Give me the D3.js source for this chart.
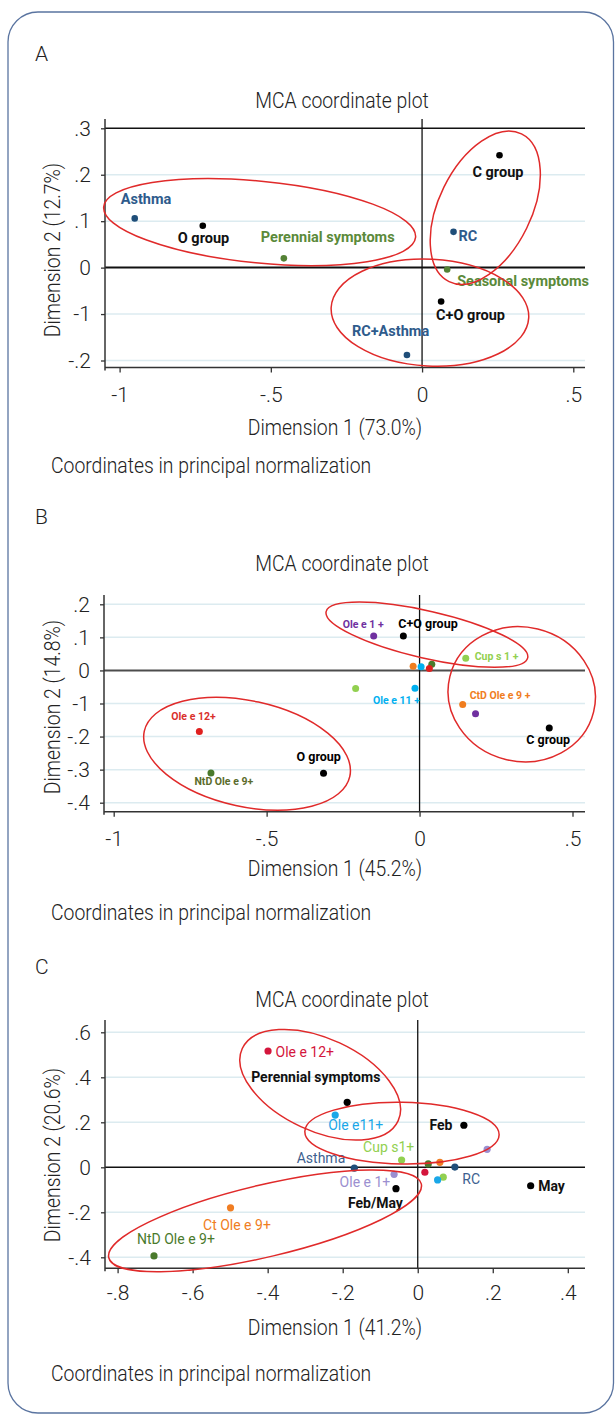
<!DOCTYPE html>
<html>
<head>
<meta charset="utf-8">
<script src="https://cdn.jsdelivr.net/npm/d3@7"></script>
<style>
  body { margin: 0; background: #fff; }
  svg { display: block; }
  text { font-family: Roboto, "Open Sans", sans-serif; }
</style>
</head>
<body>
<svg id="chart" width="615" height="1414"></svg>
<script>
// ---------- panel A : symptoms / groups
const aLabels = ["Asthma", "O group", "Perennial symptoms", "C group", "RC", "Seasonal symptoms", "C+O group", "RC+Asthma"];
const aKind = ["condition", "group", "symptom", "group", "condition", "symptom", "group", "condition"];
const aDim1 = [-0.950, -0.725, -0.457, 0.256, 0.104, 0.083, 0.063, -0.050];
const aDim2 = [0.106, 0.090, 0.020, 0.242, 0.077, -0.004, -0.073, -0.188];
const aXTicks = [-1, -0.5, 0, 0.5];
const aXTickText = ["-1", "-.5", "0", ".5"];
const aYTicks = [0.3, 0.2, 0.1, 0, -0.1, -0.2];
const aYTickText = [".3", ".2", ".1", "0", "-1", "-.2"];
// groups circled in red: centre (dim1, dim2), half axes (dim1 units, dim2 units), tilt
const aRings = [
    [-0.537, 0.098, 0.518, 0.088, 5.6],
    [0.209, 0.129, 0.272, 0.0995, -63.9],
    [0.026, -0.097, 0.327, 0.115, 3]
];

// ---------- panel B : allergen components
const bLabels = ["Ole e 1 +", "C+O group", "Cup s 1 +", "", "", "", "", "", "Ole e 11 +", "CtD Ole e 9 +", "", "C group", "Ole e 12+", "NtD Ole e 9+", "O group"];
const bKind = ["Ole e 1", "group", "Cup s 1", "CtD Ole e 9", "Ole e 11", "NtD Ole e 9", "Ole e 12", "Cup s 1", "Ole e 11", "CtD Ole e 9", "Ole e 1", "group", "Ole e 12", "NtD Ole e 9", "group"];
const bDim1 = [-0.150, -0.053, 0.151, -0.021, 0.005, 0.040, 0.032, -0.209, -0.015, 0.141, 0.183, 0.424, -0.720, -0.682, -0.314];
const bDim2 = [0.104, 0.104, 0.037, 0.013, 0.011, 0.019, 0.006, -0.055, -0.054, -0.103, -0.131, -0.174, -0.185, -0.310, -0.311];
const bXTicks = [-1, -0.5, 0, 0.5];
const bXTickText = ["-1", "-.5", "0", ".5"];
const bYTicks = [0.2, 0.1, 0, -0.1, -0.2, -0.3, -0.4];
const bYTickText = [".2", ".1", "0", "-1", "-.2", "-.3", "-.4"];
const bRings = [
    [0.024, 0.108, 0.338, 0.0715, 12.9],
    [0.334, -0.072, 0.242, 0.203, 13.8],
    [-0.564, -0.252, 0.344, 0.160, 12.4]
];

// ---------- panel C : components, symptoms, season
const cLabels = ["Ole e 12+", "Perennial symptoms", "Ole e11+", "Feb", "Cup s1+", "", "Asthma", "", "", "RC", "Ole e 1+", "", "", "", "Feb/May", "May", "Ct Ole e 9+", "NtD Ole e 9+"];
const cKind = ["Ole e 12", "black", "Ole e 11", "black", "Cup s 1", "Ole e 1", "condition", "NtD Ole e 9", "Ct Ole e 9", "condition", "Ole e 1", "Ole e 12", "Cup s 1", "Ole e 11", "black", "black", "Ct Ole e 9", "NtD Ole e 9"];
const cDim1 = [-0.399, -0.188, -0.220, 0.123, -0.043, 0.185, -0.169, 0.028, 0.059, 0.099, -0.063, 0.019, 0.068, 0.053, -0.058, 0.301, -0.499, -0.703];
const cDim2 = [0.517, 0.289, 0.232, 0.187, 0.032, 0.080, -0.004, 0.015, 0.022, 0.001, -0.031, -0.022, -0.044, -0.056, -0.095, -0.082, -0.180, -0.394];
const cXTicks = [-0.8, -0.6, -0.4, -0.2, 0, 0.2, 0.4];
const cXTickText = ["-.8", "-.6", "-.4", "-.2", "0", ".2", ".4"];
const cYTicks = [0.6, 0.4, 0.2, 0, -0.2, -0.4];
const cYTickText = [".6", ".4", ".2", "0", "-.2", "-.4"];
const cRings = [
    [-0.260, 0.367, 0.229, 0.205, 24.9],
    [-0.042, 0.152, 0.259, 0.137, 1],
    [-0.407, -0.238, 0.428, 0.160, -13.3]
];

// label nudges (pixels from the dot)
const nudgeA = {
    "Asthma": [-14, -14], "O group": [-25, 17], "Perennial symptoms": [-23, -16],
    "C group": [-27, 22], "RC": [5, 9], "Seasonal symptoms": [10, 17],
    "C+O group": [-5, 18], "RC+Asthma": [-55, -19]
};
const nudgeB = {
    "Ole e 1 +": [-31, -8], "C+O group": [-5, -8], "Cup s 1 +": [9, 2],
    "Ole e 11 +": [-42, 16], "CtD Ole e 9 +": [7, -5], "C group": [-23, 16],
    "Ole e 12+": [-28, -12], "NtD Ole e 9+": [-16.5, 12], "O group": [-27, -12]
};
const nudgeC = {
    "Ole e 12+": [7.5, 6], "Perennial symptoms": [-96, -20], "Ole e11+": [-7, 15],
    "Feb": [-34.5, 5], "Cup s1+": [-38.5, -8], "Asthma": [-57.6, -5], "RC": [7.4, 17],
    "Ole e 1+": [-54.5, 13], "Feb/May": [-48, 19], "May": [7.5, 5],
    "Ct Ole e 9+": [-27.5, 22], "NtD Ole e 9+": [-17, -12]
};

const dotColour = d3.scaleOrdinal()
    .domain(["group", "black", "condition", "symptom", "Ole e 1", "Cup s 1", "CtD Ole e 9", "Ct Ole e 9", "Ole e 11", "NtD Ole e 9", "Ole e 12"])
    .range(["#000", "#000", "#1f4e79", "#548235", "#7030a0", "#92d050", "#f07d1e", "#f07d22", "#00b0f0", "#4a7a2c", "#e0201f"]);
const dotColourC = d3.scaleOrdinal()
    .domain(["Ole e 1", "Ole e 12", "Ole e 11"])
    .range(["#9b8fd0", "#d4163c", "#1aa7e8"]);

const svg = d3.select("#chart");

svg.append("rect")
    .attr("x", 8).attr("y", 12)
    .attr("width", 605.5).attr("height", 1401)
    .attr("rx", 30)
    .attr("fill", "none")
    .attr("stroke", "#5a74a0")
    .attr("stroke-width", 1.3);

// squeeze text horizontally, the source font is a condensed face
function squeeze(sel, k) {
    sel.each(function () {
        let len = this.getComputedTextLength();
        d3.select(this).attr("textLength", len * k).attr("lengthAdjust", "spacingAndGlyphs");
    });
}

function panel(p) {
    let g = svg.append("g");
    let x = d3.scaleLinear().domain(p.xDom).range(p.xRange);
    let y = d3.scaleLinear().domain(p.yDom).range(p.yRange);
    let {left, right, top, bottom} = p;

    g.append("text")
        .attr("x", 35).attr("y", p.letterY + 7.5)
        .attr("font-size", 21).attr("font-weight", 300).attr("fill", "#222")
        .text(p.letter);

    g.append("text")
        .attr("x", 342).attr("y", p.titleY + 8)
        .attr("text-anchor", "middle")
        .attr("font-size", 22).attr("font-weight", 300).attr("fill", "#222")
        .text("MCA coordinate plot")
        .call(squeeze, 0.88);

    // light grid
    g.selectAll(".grid")
        .data(p.yTicks.filter(v => v !== 0 && !(p.topLine && v === p.yTicks[0])))
        .join("line")
        .attr("x1", left).attr("x2", right)
        .attr("y1", d => y(d)).attr("y2", d => y(d))
        .attr("stroke", "#dcebf0").attr("stroke-width", 1.5);

    if (p.topLine) {
        g.append("line")
            .attr("x1", left).attr("x2", right)
            .attr("y1", y(p.yTicks[0])).attr("y2", y(p.yTicks[0]))
            .attr("stroke", "#111").attr("stroke-width", 1.5);
    }

    // reference lines through the origin
    g.append("line")
        .attr("x1", left).attr("x2", right)
        .attr("y1", y(0)).attr("y2", y(0))
        .attr("stroke", p.zeroColour).attr("stroke-width", p.zeroWidth);
    g.append("line")
        .attr("x1", x(0)).attr("x2", x(0))
        .attr("y1", top).attr("y2", bottom)
        .attr("stroke", "#111").attr("stroke-width", 1.3);

    // axes
    let yAxis = g.append("g")
        .attr("transform", "translate(" + left + ",0)")
        .call(d3.axisLeft(y).tickValues(p.yTicks).tickFormat((d, i) => p.yTickText[i]).tickSize(4).tickPadding(10));
    let xAxis = g.append("g")
        .attr("transform", "translate(0," + bottom + ")")
        .call(d3.axisBottom(x).tickValues(p.xTicks).tickFormat((d, i) => p.xTickText[i]).tickSize(5).tickPadding(p.xPad));
    [yAxis, xAxis].forEach(a => {
        a.select(".domain").remove();
        a.selectAll("line").attr("stroke", "#333").attr("stroke-width", 1.3);
        a.selectAll("text")
            .attr("font-family", "Roboto, 'Open Sans', sans-serif")
            .attr("font-size", 21).attr("font-weight", 300).attr("fill", "#222");
    });
    g.append("line")
        .attr("x1", left).attr("x2", left)
        .attr("y1", top).attr("y2", bottom + 3)
        .attr("stroke", "#333").attr("stroke-width", 1.5);
    g.append("line")
        .attr("x1", left).attr("x2", right)
        .attr("y1", bottom).attr("y2", bottom)
        .attr("stroke", "#333").attr("stroke-width", 1.5);

    // axis titles and footnote
    g.append("text")
        .attr("x", 335).attr("y", bottom + p.xTitleGap + 8)
        .attr("text-anchor", "middle")
        .attr("font-size", 22).attr("font-weight", 300).attr("fill", "#222")
        .text(p.xTitle)
        .call(squeeze, 0.88);
    g.append("text")
        .attr("transform", "translate(60," + p.yTitleY + ") rotate(-90)")
        .attr("text-anchor", "middle")
        .attr("font-size", 22).attr("font-weight", 300).attr("fill", "#222")
        .text(p.yTitle)
        .call(squeeze, 0.88);
    g.append("text")
        .attr("x", 51).attr("y", p.noteY + 8)
        .attr("font-size", 22).attr("font-weight", 300).attr("fill", "#222")
        .text("Coordinates in principal normalization")
        .call(squeeze, 0.88);

    // points
    let pts = p.labels.map((lab, i) => ({lab, kind: p.kind[i], d1: p.dim1[i], d2: p.dim2[i]}));
    g.selectAll(".dot")
        .data(pts)
        .join("circle")
        .attr("cx", d => x(d.d1))
        .attr("cy", d => y(d.d2))
        .attr("r", p.r)
        .attr("fill", d => p.colour(d.kind));

    g.selectAll(".lab")
        .data(pts.filter(d => d.lab))
        .join("text")
        .attr("x", d => x(d.d1) + p.nudge[d.lab][0])
        .attr("y", d => y(d.d2) + p.nudge[d.lab][1])
        .attr("font-size", d => p.labelSize(d))
        .attr("font-weight", d => p.labelWeight(d))
        .attr("fill", d => p.labelColour(d))
        .text(d => d.lab);

    // red rings around the groups
    g.selectAll(".ring")
        .data(p.rings)
        .join("ellipse")
        .attr("transform", d => "translate(" + x(d[0]) + "," + y(d[1]) + ") rotate(" + d[4] + ")")
        .attr("rx", d => x(d[2]) - x(0))
        .attr("ry", d => y(0) - y(d[3]))
        .attr("fill", "none")
        .attr("stroke", "#e02a2a")
        .attr("stroke-width", 1.5);
}

const labelColourA = {condition: "#2e5b8c", symptom: "#5b8a3a", group: "#111"};

panel({
    letter: "A", letterY: 53, titleY: 100,
    left: 105, right: 585, top: 119, bottom: 367.5,
    xDom: [-1, 0.5], xRange: [119.6, 573.3],
    yDom: [-0.2, 0.3], yRange: [360.5, 128.3],
    xTicks: aXTicks, xTickText: aXTickText, yTicks: aYTicks, yTickText: aYTickText,
    xPad: 15, topLine: true, zeroColour: "#111", zeroWidth: 2,
    xTitle: "Dimension 1 (73.0%)", xTitleGap: 59.5,
    yTitle: "Dimension 2 (12.7%)", yTitleY: 250, noteY: 465,
    labels: aLabels, kind: aKind, dim1: aDim1, dim2: aDim2, rings: aRings, nudge: nudgeA,
    r: 3.3, colour: dotColour,
    labelSize: () => 14.5, labelWeight: () => 700,
    labelColour: d => labelColourA[d.kind]
});

panel({
    letter: "B", letterY: 516, titleY: 563,
    left: 104, right: 585, top: 595, bottom: 811.7,
    xDom: [-1, 0.5], xRange: [113.7, 572.5],
    yDom: [-0.4, 0.2], yRange: [802.7, 604.3],
    xTicks: bXTicks, xTickText: bXTickText, yTicks: bYTicks, yTickText: bYTickText,
    xPad: 14, topLine: false, zeroColour: "#4d4d4d", zeroWidth: 2,
    xTitle: "Dimension 1 (45.2%)", xTitleGap: 56,
    yTitle: "Dimension 2 (14.8%)", yTitleY: 707, noteY: 911.7,
    labels: bLabels, kind: bKind, dim1: bDim1, dim2: bDim2, rings: bRings, nudge: nudgeB,
    r: 3.5, colour: dotColour,
    labelSize: d => d.kind === "group" ? 12.5 : 10.5, labelWeight: () => 700,
    labelColour: d => d.kind === "NtD Ole e 9" ? "#5b6b2b" : d.kind === "Ole e 12" ? "#d9302c" : dotColour(d.kind)
});

const colourC = k => dotColourC.domain().includes(k) ? dotColourC(k) : dotColour(k);
panel({
    letter: "C", letterY: 966.7, titleY: 999.3,
    left: 105, right: 585, top: 1020, bottom: 1268.3,
    xDom: [-0.8, 0.4], xRange: [117.6, 567.8],
    yDom: [-0.4, 0.6], yRange: [1257.3, 1032.3],
    xTicks: cXTicks, xTickText: cXTickText, yTicks: cYTicks, yTickText: cYTickText,
    xPad: 12, topLine: false, zeroColour: "#111", zeroWidth: 1.6,
    xTitle: "Dimension 1 (41.2%)", xTitleGap: 58.7,
    yTitle: "Dimension 2 (20.6%)", yTitleY: 1155, noteY: 1373,
    labels: cLabels, kind: cKind, dim1: cDim1, dim2: cDim2, rings: cRings, nudge: nudgeC,
    r: 3.6, colour: colourC,
    labelSize: () => 14, labelWeight: d => d.kind === "black" ? 700 : 400,
    labelColour: d => d.kind === "black" ? "#111" : d.kind === "condition" ? "#3d5f8f" : colourC(d.kind)
});
</script>
</body>
</html>
